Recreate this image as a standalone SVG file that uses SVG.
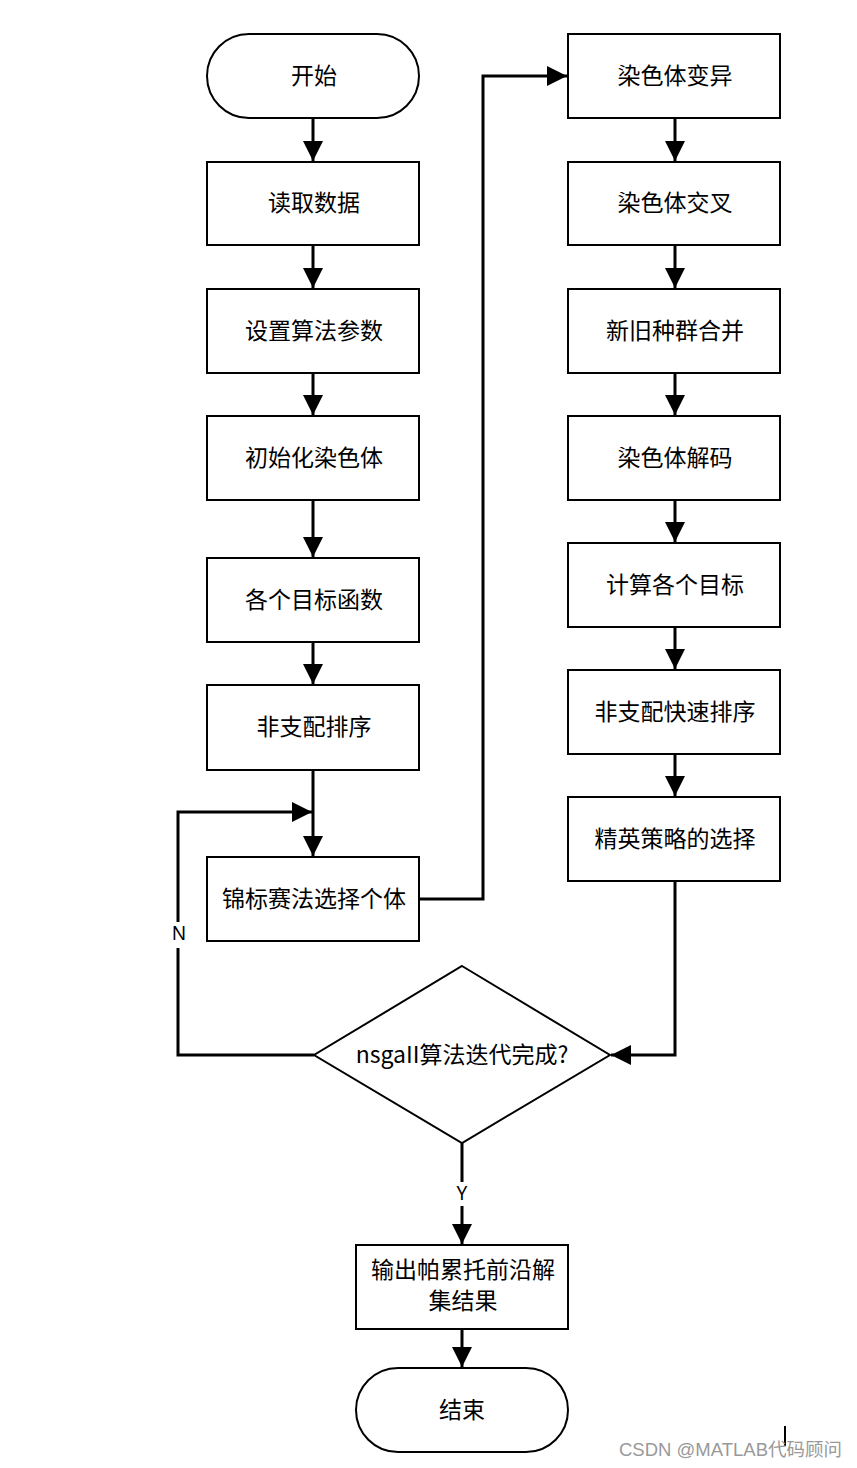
<svg xmlns="http://www.w3.org/2000/svg" width="857" height="1468" viewBox="0 0 857 1468">
<style>
.box{fill:#fff;stroke:#000;stroke-width:2}
.t{font-family:"Noto Sans CJK SC","Noto Sans",sans-serif;font-size:23px;fill:#000;text-anchor:middle;dominant-baseline:central}
.c{fill:none;stroke:#000;stroke-width:3}
.lbl{font-family:"Noto Sans","Noto Sans CJK SC",sans-serif;font-size:19px;fill:#000;text-anchor:middle;dominant-baseline:central}
</style>
<defs>
<marker id="ah" markerUnits="userSpaceOnUse" markerWidth="22" markerHeight="22" refX="20" refY="10" orient="auto">
<path d="M0,0 L20,10 L0,20 Z" fill="#000"/>
</marker>
</defs>
<rect width="857" height="1468" fill="#fff"/>
<g id="connectors">
<line class="c" x1="313" y1="118" x2="313" y2="161" marker-end="url(#ah)"/>
<line class="c" x1="313" y1="245" x2="313" y2="288" marker-end="url(#ah)"/>
<line class="c" x1="313" y1="373" x2="313" y2="415" marker-end="url(#ah)"/>
<line class="c" x1="313" y1="500" x2="313" y2="557" marker-end="url(#ah)"/>
<line class="c" x1="313" y1="642" x2="313" y2="684" marker-end="url(#ah)"/>
<line class="c" x1="313" y1="770" x2="313" y2="856" marker-end="url(#ah)"/>
<polyline class="c" points="419,899 483,899 483,76 567,76" marker-end="url(#ah)"/>
<line class="c" x1="675" y1="118" x2="675" y2="161" marker-end="url(#ah)"/>
<line class="c" x1="675" y1="245" x2="675" y2="288" marker-end="url(#ah)"/>
<line class="c" x1="675" y1="373" x2="675" y2="415" marker-end="url(#ah)"/>
<line class="c" x1="675" y1="500" x2="675" y2="542" marker-end="url(#ah)"/>
<line class="c" x1="675" y1="627" x2="675" y2="669" marker-end="url(#ah)"/>
<line class="c" x1="675" y1="754" x2="675" y2="796" marker-end="url(#ah)"/>
<polyline class="c" points="675,881 675,1055 611,1055" marker-end="url(#ah)"/>
<polyline class="c" points="314,1055 178,1055 178,812 312,812" marker-end="url(#ah)"/>
<line class="c" x1="462" y1="1143" x2="462" y2="1244" marker-end="url(#ah)"/>
<line class="c" x1="462" y1="1329" x2="462" y2="1367" marker-end="url(#ah)"/>
<rect x="168" y="922" width="22" height="26" fill="#fff"/>
<text class="lbl" x="179" y="933">N</text>
<rect x="452" y="1182" width="20" height="24" fill="#fff"/>
<text class="lbl" x="462" y="1193">Y</text>
</g>
<g id="start"><rect class="box" x="207" y="34" width="212" height="84" rx="42"/><text class="t" x="314" y="74">开始</text></g>
<g id="read"><rect class="box" x="207" y="162" width="212" height="83"/><text class="t" x="314" y="201">读取数据</text></g>
<g id="params"><rect class="box" x="207" y="289" width="212" height="84"/><text class="t" x="314" y="329">设置算法参数</text></g>
<g id="init"><rect class="box" x="207" y="416" width="212" height="84"/><text class="t" x="314" y="456">初始化染色体</text></g>
<g id="objfun"><rect class="box" x="207" y="558" width="212" height="84"/><text class="t" x="314" y="598">各个目标函数</text></g>
<g id="nds"><rect class="box" x="207" y="685" width="212" height="85"/><text class="t" x="314" y="725">非支配排序</text></g>
<g id="tourn"><rect class="box" x="207" y="857" width="212" height="84"/><text class="t" x="314" y="897">锦标赛法选择个体</text></g>
<g id="mutate"><rect class="box" x="568" y="34" width="212" height="84"/><text class="t" x="675" y="74">染色体变异</text></g>
<g id="cross"><rect class="box" x="568" y="162" width="212" height="83"/><text class="t" x="675" y="201">染色体交叉</text></g>
<g id="merge"><rect class="box" x="568" y="289" width="212" height="84"/><text class="t" x="675" y="329">新旧种群合并</text></g>
<g id="decode"><rect class="box" x="568" y="416" width="212" height="84"/><text class="t" x="675" y="456">染色体解码</text></g>
<g id="calc"><rect class="box" x="568" y="543" width="212" height="84"/><text class="t" x="675" y="583">计算各个目标</text></g>
<g id="fnds"><rect class="box" x="568" y="670" width="212" height="84"/><text class="t" x="675" y="710">非支配快速排序</text></g>
<g id="elite"><rect class="box" x="568" y="797" width="212" height="84"/><text class="t" x="675" y="837">精英策略的选择</text></g>
<g id="decision"><polygon class="box" points="462,966 610,1055 462,1143 314,1055"/><text class="t" x="462" y="1053">nsgaII算法迭代完成?</text></g>
<g id="output"><rect class="box" x="356" y="1245" width="212" height="84"/><text class="t" x="463" y="1268">输出帕累托前沿解</text><text class="t" x="463" y="1299">集结果</text></g>
<g id="end"><rect class="box" x="356" y="1368" width="212" height="84" rx="42"/><text class="t" x="462" y="1408">结束</text></g>
<line x1="785" y1="1426" x2="785" y2="1446" stroke="#000" stroke-width="2"/>
<text x="842" y="1456" font-family="'Liberation Sans','Noto Sans CJK SC',sans-serif" font-size="18.5" fill="#999" text-anchor="end">CSDN @MATLAB代码顾问</text>
</svg>
